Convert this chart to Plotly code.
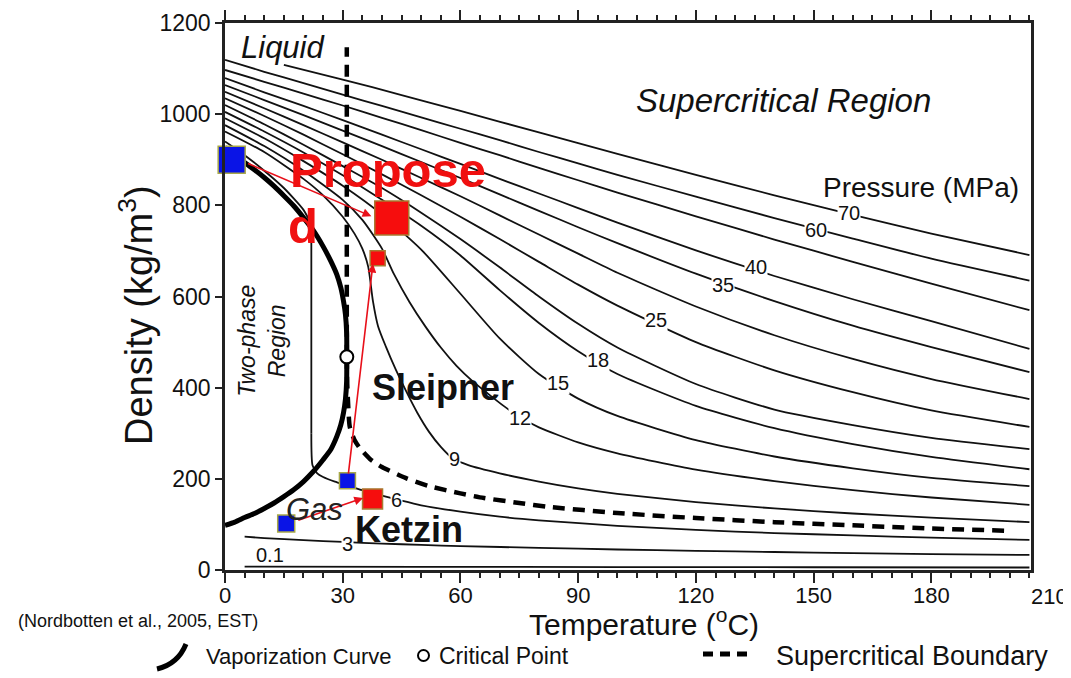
import plotly.graph_objects as go

# ---------------- data ----------------
T_STD = [0, 10, 20, 30, 40, 50, 60, 70, 80, 90, 100, 120, 140, 160, 180, 205]

T_70 = [15, 30, 45, 60, 80, 100, 120, 140, 160, 180, 205]
RHO_70 = [1108, 1076, 1042, 1007, 960, 913, 867, 822, 779, 738, 691]
RHO_60 = [1119, 1093, 1068, 1043, 1018, 993, 968, 943, 917, 892, 867, 819, 772, 727, 683, 635]
RHO_50 = [1097, 1071, 1045, 1019, 992, 965, 937, 910, 882, 855, 828, 776, 725, 676, 628, 570]
RHO_40 = [1079, 1048, 1018, 987, 955, 923, 891, 858, 826, 794, 762, 701, 645, 594, 546, 485]
RHO_35 = [1064, 1031, 998, 964, 930, 895, 860, 824, 788, 752, 717, 650, 590, 536, 489, 434]
RHO_30 = [1049, 1013, 976, 938, 900, 860, 820, 778, 736, 694, 652, 578, 515, 463, 419, 375]
RHO_25 = [1035, 996, 955, 912, 868, 822, 775, 726, 676, 626, 580, 500, 438, 390, 350, 314]
RHO_20 = [1020, 978, 933, 886, 838, 784, 726, 664, 600, 540, 488, 408, 352, 318, 290, 265]
RHO_18 = [1005, 962, 916, 866, 812, 755, 690, 614, 542, 480, 430, 360, 311, 276, 248, 221]
RHO_15 = [991, 947, 897, 843, 780, 703, 606, 508, 430, 376, 338, 285, 249, 223, 202, 184]

T_12 = [0, 10, 20, 30, 35, 40, 43, 47, 51, 55, 59, 63, 67, 71, 75, 80, 90, 100, 120, 140, 160, 180, 205]
RHO_12 = [976, 930, 876, 812, 768, 705, 650, 588, 535, 488, 448, 415, 387, 360, 336, 313, 280, 256, 220, 195, 175, 159, 143]

T_9 = [0, 10, 20, 25, 30, 33, 35, 36.5, 37.7, 39, 41, 43.5, 46, 49, 52, 55, 58, 62, 70, 80, 90, 100, 120, 140, 160, 180, 205]
RHO_9 = [962, 917, 858, 822, 775, 738, 705, 665, 590, 535, 490, 440, 395, 345, 303, 270, 245, 230, 212, 194, 179, 167, 149, 135, 124, 115, 105]

T_6_LIQ = [0, 5, 10, 15, 20, 22]
RHO_6_LIQ = [940, 910, 876, 838, 790, 758]
T_6_2PH = [22, 22]
RHO_6_2PH = [758, 300]
T_6_GAS = [22, 22.3, 23.5, 25, 28, 31, 35, 40, 45, 50, 60, 70, 80, 100, 120, 140, 160, 180, 205]
RHO_6_GAS = [300, 230, 212, 204, 194, 186, 175, 163, 152, 142, 128, 117, 109, 97, 88, 81, 76, 71, 66]

T_3 = [5, 10, 20, 30, 40, 50, 60, 80, 100, 120, 140, 160, 180, 205]
RHO_3 = [73, 70, 65.5, 61.5, 58, 55, 52.5, 48.5, 45, 42, 39.5, 37, 35, 33]

T_01 = [5, 50, 100, 150, 205]
RHO_01 = [7.5, 7, 6.5, 6, 5.5]

# vaporization curve (liquid branch -> critical point -> vapour branch)
VAP_T = [0, 2.5, 5, 7.5, 10, 12.5, 15, 17.5, 20, 22.5, 25, 27, 28.5, 29.5, 30.2, 30.7, 31.0, 31.04,
         31.0, 30.7, 30.2, 29.5, 28.5, 27, 25, 22.5, 20, 17.5, 15, 12.5, 10, 7.5, 5, 2.5, 0]
VAP_RHO = [927, 911, 894, 878, 861, 842, 821, 799, 773, 745, 710, 677, 648, 620, 590, 560, 520, 468,
           415, 375, 345, 318, 293, 265, 242, 216, 194, 176, 161, 147, 135, 124, 115, 105, 98]

# supercritical boundary
SB_T = [31.04, 31.1, 31.4, 31.8, 33, 34.3, 37, 40, 46, 52, 60, 66, 75, 82, 100, 120, 140, 160, 180, 200]
SB_RHO = [468, 420, 360, 314, 285, 268, 243, 226, 202, 184, 168, 158, 147, 139, 125, 114, 105, 98, 91, 86]
SBV_T = [31.04, 31.04]
SBV_RHO = [468, 1147]

CRIT_T = [31.04]
CRIT_RHO = [467.6]

# site markers
BLUE_T = [1.7, 31.2, 15.6]
BLUE_RHO = [900, 196, 102]
BLUE_SIZE = [27, 16, 17]
RED_T = [42.5, 38.9, 37.6]
RED_RHO = [772, 684, 156]
RED_SIZE = [34, 15, 20]

# isobar labels
LAB_TEXT = ["70", "60", "40", "35", "25", "18", "15", "12", "9", "6", "3"]
LAB_T = [159, 150.5, 135.2, 126.8, 109.8, 95, 84.8, 75.3, 58.5, 43.7, 31.3]
LAB_RHO = [783, 746, 665, 625, 548, 461, 410, 333, 243, 153, 56]

X_TICKS = [0, 30, 60, 90, 120, 150, 180]
Y_TICKS = [0, 200, 400, 600, 800, 1000, 1200]

# ---------------- figure ----------------
FONT = "Liberation Sans, Arial, sans-serif"
fig = go.Figure()


def iso(t, r, shape="spline"):
    fig.add_trace(go.Scatter(x=t, y=r, mode="lines", line=dict(color="#111", width=1.8, shape=shape, smoothing=0.6),
                             hoverinfo="skip", showlegend=False))


iso(T_70, RHO_70)
for r in [RHO_60, RHO_50, RHO_40, RHO_35, RHO_30, RHO_25, RHO_20, RHO_18, RHO_15]:
    iso(T_STD, r)
iso(T_12, RHO_12)
iso(T_9, RHO_9)
iso(T_6_LIQ, RHO_6_LIQ)
iso(T_6_2PH, RHO_6_2PH, "linear")
iso(T_6_GAS, RHO_6_GAS)
iso(T_3, RHO_3)
iso(T_01, RHO_01)

# supercritical boundary
fig.add_trace(go.Scatter(x=SB_T, y=SB_RHO, mode="lines",
                         line=dict(color="black", width=4.5, dash="12px,8px", shape="spline", smoothing=0.6),
                         hoverinfo="skip", showlegend=False))
fig.add_trace(go.Scatter(x=SBV_T, y=SBV_RHO, mode="lines",
                         line=dict(color="black", width=4.5, dash="12px,8px"),
                         hoverinfo="skip", showlegend=False))
# vaporization curve
fig.add_trace(go.Scatter(x=VAP_T, y=VAP_RHO, mode="lines",
                         line=dict(color="black", width=5, shape="spline", smoothing=0.6),
                         hoverinfo="skip", showlegend=False))
# critical point
fig.add_trace(go.Scatter(x=CRIT_T, y=CRIT_RHO, mode="markers",
                         marker=dict(symbol="circle", size=13, color="white", opacity=1, line=dict(color="black", width=2)),
                         hoverinfo="skip", showlegend=False))

# isobar labels (break the lines)
for s, t, r in zip(LAB_TEXT, LAB_T, LAB_RHO):
    fig.add_annotation(x=t, y=r, text=s, showarrow=False, bgcolor="white", borderpad=0,
                       xanchor="center", yanchor="middle",
                       font=dict(family=FONT, size=20, color="#111"))
fig.add_annotation(x=11.4, y=33, text="0.1", showarrow=False, xanchor="center", yanchor="middle",
                   font=dict(family=FONT, size=20, color="#111"))

# arrows
ARROWS = [((37.3, 776), (5.5, 893)), ((37.7, 672), (31.4, 208)), ((35.2, 158), (18.3, 108))]
for (hx, hy), (tx, ty) in ARROWS:
    fig.add_annotation(x=hx, y=hy, ax=tx, ay=ty, xref="x", yref="y", axref="x", ayref="y", text="",
                       showarrow=True, arrowhead=2, arrowsize=1.1, arrowwidth=1.6, arrowcolor="#e8101a")

# site markers
fig.add_trace(go.Scatter(x=BLUE_T, y=BLUE_RHO, mode="markers", cliponaxis=False,
                         marker=dict(symbol="square", size=BLUE_SIZE, color="#0a14e6", opacity=1,
                                     line=dict(color="#a8a848", width=1.5)),
                         hoverinfo="skip", showlegend=False))
fig.add_trace(go.Scatter(x=RED_T, y=RED_RHO, mode="markers", cliponaxis=False,
                         marker=dict(symbol="square", size=RED_SIZE, color="#f60d0d", opacity=1,
                                     line=dict(color="#a87a30", width=1.5)),
                         hoverinfo="skip", showlegend=False))


# texts
def txt(x, y, s, size, color="#111", italic=False, bold=False, angle=0, xref="x", yref="y", family=FONT):
    fig.add_annotation(x=x, y=y, xref=xref, yref=yref, text=s, showarrow=False, textangle=angle,
                       xanchor="center", yanchor="middle",
                       font=dict(family=family, size=size, color=color, style="italic" if italic else "normal",
                                 weight="bold" if bold else "normal"))


txt(14.8, 1147, "Liquid", 31, italic=True)
txt(142.4, 1031, "Supercritical Region", 33, italic=True)
txt(177.3, 840, "Pressure (MPa)", 28)
txt(41.5, 878, "Propose", 49, color="#f01010", bold=True)
txt(19.8, 755, "d", 49, color="#f01010", bold=True)
txt(55.5, 401, "Sleipner", 36, bold=True)
txt(46.8, 88, "Ketzin", 36, bold=True)
txt(22.8, 132, "Gas", 31, italic=True, color="#222")
txt(9.6, 502, "Two-phase<br>Region", 23, italic=True, angle=-90)

# page layout: the page body adds an 8px offset, so the figure is 8px smaller
OFF = 8
W, H = 1071 - OFF, 678 - OFF
PL, PT, PW, PH = 225 - OFF, 23 - OFF, 806, 547


def px(xp):
    return (xp - 225) / PW


def py(yp):
    return (570 - yp) / PH


txt(px(1049), py(596), "210", 22, xref="paper", yref="paper")
txt(px(644), py(622), "Temperature (<sup>o</sup>C)", 30, xref="paper", yref="paper")
txt(px(136), py(315), "Density (kg/m<sup>3</sup>)", 38, angle=-90, xref="paper", yref="paper")
txt(px(138), py(621), "(Nordbotten et al., 2005, EST)", 18, xref="paper", yref="paper")
txt(px(298), py(656), "Vaporization Curve", 22, xref="paper", yref="paper")
txt(px(504), py(656), "Critical Point", 23, xref="paper", yref="paper")
txt(px(912), py(656), "Supercritical Boundary", 27, xref="paper", yref="paper")

# legend glyphs
fig.add_shape(type="path", xref="paper", yref="paper",
              path=f"M {px(157)} {py(669)} Q {px(178)} {py(664)} {px(186)} {py(644)}",
              line=dict(color="black", width=5))
fig.add_shape(type="circle", xref="paper", yref="paper", x0=px(418), x1=px(429), y0=py(661), y1=py(650),
              line=dict(color="black", width=2), fillcolor="white")
fig.add_shape(type="line", xref="paper", yref="paper", x0=px(703), x1=px(752), y0=py(654), y1=py(654),
              line=dict(color="black", width=5, dash="10px,7px"))

fig.update_layout(
    width=W, height=H,
    margin=dict(l=PL, r=W - PL - PW, t=PT, b=H - PT - PH, autoexpand=False),
    paper_bgcolor="white", plot_bgcolor="white",
    font=dict(family=FONT, size=22, color="#111"),
    showlegend=False,
    xaxis=dict(range=[0, 205.4], tickvals=X_TICKS, ticks="outside", ticklen=10, tickwidth=2, tickcolor="#222",
               showline=True, linewidth=2.5, linecolor="#222", mirror="ticks", showgrid=False, zeroline=False,
               tickfont=dict(size=22), automargin=False, ticklabelstandoff=-6,
               minor=dict(dtick=5, tick0=0, ticks="outside", ticklen=5, tickwidth=1.5, tickcolor="#222")),
    yaxis=dict(range=[0, 1200], tickvals=Y_TICKS, ticks="outside", ticklen=7, tickwidth=2, tickcolor="#222",
               showline=True, linewidth=2.5, linecolor="#222", mirror=True, showgrid=False, zeroline=False,
               tickfont=dict(size=23), automargin=False),
)

fig.write_html("out.html")
